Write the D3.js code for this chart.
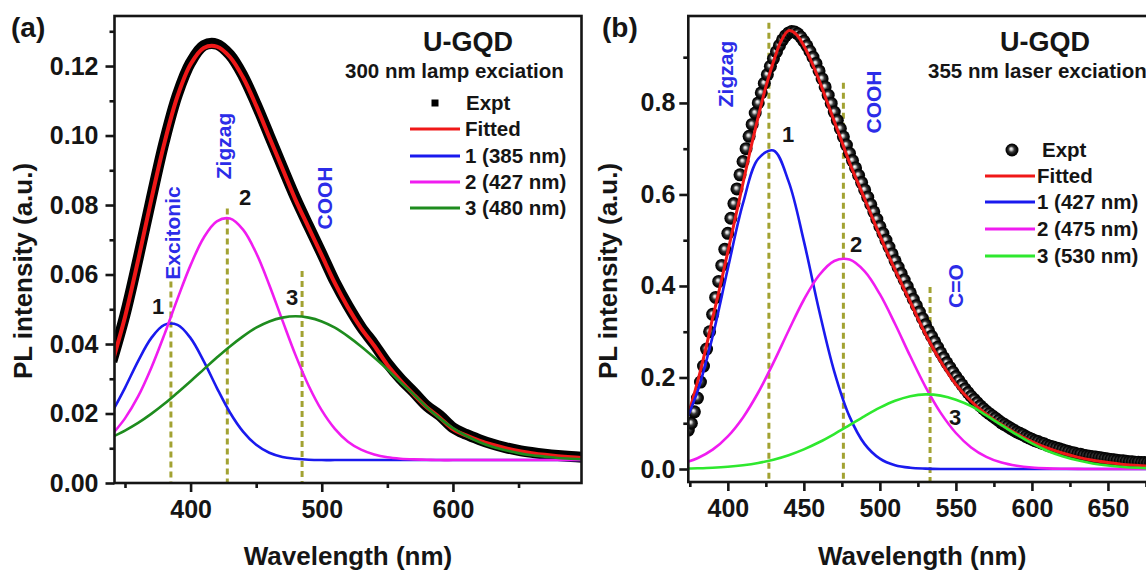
<!DOCTYPE html>
<html>
<head>
<meta charset="utf-8">
<script src="https://cdn.jsdelivr.net/npm/d3@7"></script>
<style>
  body { margin: 0; background: #fff; }
  svg text { font-family: "Liberation Sans", Arial, sans-serif; font-weight: bold; }
</style>
</head>
<body>
<script>
// ---- panel (a): 300 nm lamp excitation ----
const wlA = [340,350,360,370,380,390,400,410,420,430,440,450,460,470,480,490,500,510,520,530,540,550,560,570,580,590,600,610,620,630,640,650,660,670,680,690,700];
const exptA = [0.0350,0.0484,0.0646,0.0818,0.0983,0.1118,0.1210,0.1259,0.1263,0.1232,0.1172,0.1090,0.1000,0.0909,0.0820,0.0739,0.0660,0.0579,0.0510,0.0449,0.0399,0.0345,0.0300,0.0262,0.0222,0.0194,0.0159,0.0140,0.0125,0.0112,0.0102,0.0094,0.0088,0.0083,0.0079,0.0076,0.0074];
const fitA = [0.0343,0.0478,0.0641,0.0815,0.0978,0.1113,0.1205,0.1252,0.1256,0.1226,0.1167,0.1086,0.0995,0.0905,0.0815,0.0735,0.0655,0.0575,0.0505,0.0445,0.0395,0.0340,0.0295,0.0255,0.0218,0.0188,0.0155,0.0137,0.0122,0.0110,0.0100,0.0092,0.0086,0.0081,0.0077,0.0074,0.0072];
const peak1A = [0.0203,0.0274,0.0351,0.0417,0.0455,0.0455,0.0417,0.0351,0.0274,0.0203,0.0148,0.0110,0.0087,0.0075,0.0070,0.0067,0.0066,0.0066,0.0066,0.0066,0.0066,0.0066,0.0066,0.0066,0.0066,0.0066,0.0066,0.0066,0.0066,0.0066,0.0066,0.0066,0.0066,0.0066,0.0066,0.0066,0.0066];
const peak2A = [0.0139,0.0186,0.0249,0.0331,0.0427,0.0530,0.0627,0.0706,0.0753,0.0761,0.0729,0.0662,0.0570,0.0468,0.0368,0.0280,0.0209,0.0156,0.0119,0.0096,0.0082,0.0074,0.0070,0.0068,0.0067,0.0066,0.0066,0.0066,0.0066,0.0066,0.0066,0.0066,0.0066,0.0066,0.0066,0.0066,0.0066];
const peak3A = [0.0132,0.0151,0.0173,0.0199,0.0228,0.0260,0.0293,0.0327,0.0361,0.0393,0.0422,0.0447,0.0465,0.0476,0.0480,0.0476,0.0465,0.0447,0.0422,0.0393,0.0361,0.0327,0.0290,0.0255,0.0218,0.0186,0.0158,0.0136,0.0118,0.0104,0.0094,0.0086,0.0080,0.0076,0.0072,0.0070,0.0068];
const xTicksA = [400,500,600];
const xMinorA = [350,450,550,650];
const yTicksA = [0,0.02,0.04,0.06,0.08,0.10,0.12];
const yMinorA = [0.01,0.03,0.05,0.07,0.09,0.11,0.13];
const legendA = ["Expt","Fitted","1 (385 nm)","2 (427 nm)","3 (480 nm)"];
const markWlA = [385,428,485];
const markTopA = [0.058,0.079,0.061];

// ---- panel (b): 355 nm laser excitation ----
const wlB = [370,380,390,400,410,420,430,440,450,460,470,480,490,500,510,520,530,540,550,560,570,580,590,600,610,620,630,640,650,660,670,680,690];
const peak1B = [0.0865,0.169,0.290,0.438,0.581,0.678,0.696,0.628,0.498,0.347,0.213,0.115,0.0544,0.0227,0.0083,0.0027,0.0008,0,0,0,0,0,0,0,0,0,0,0,0,0,0,0,0];
const peak2B = [0.0123,0.0235,0.0423,0.0714,0.1128,0.1672,0.2324,0.3028,0.3699,0.4235,0.4547,0.4576,0.4318,0.382,0.3168,0.2463,0.1796,0.1227,0.0787,0.0472,0.0266,0.0140,0.0070,0.0032,0.0014,0.0006,0.0002,0,0,0,0,0,0];
const peak3B = [0.0008,0.0016,0.0028,0.0049,0.0083,0.0133,0.0204,0.0302,0.0429,0.0584,0.0764,0.0960,0.1157,0.1340,0.1490,0.1590,0.1630,0.1603,0.1514,0.1373,0.117,0.096,0.075,0.056,0.040,0.028,0.019,0.012,0.0075,0.0045,0.0027,0.0015,0.001];
const fitB = [[374,0.12],[378,0.165],[382,0.215],[386,0.27],[390,0.33],[395,0.40],[400,0.475],[405,0.55],[410,0.625],[415,0.70],[420,0.77],[425,0.835],[430,0.89],[435,0.935],[440,0.958],[445,0.95],[450,0.925],[455,0.89],[460,0.85],[465,0.805],[470,0.76],[475,0.715],[480,0.67],[490,0.59],[500,0.51],[510,0.435],[520,0.365],[530,0.295],[540,0.235],[550,0.185],[560,0.148],[570,0.12],[580,0.097],[590,0.077],[600,0.06],[610,0.046],[620,0.035],[630,0.026],[640,0.019],[650,0.014],[660,0.010],[670,0.0075],[680,0.006],[690,0.005]];
const exptB = [[374,0.085],[376,0.100],[378,0.125],[380,0.155],[382,0.19],[384,0.225],[386,0.262],[388,0.30],[390,0.338],[392,0.375],[394,0.41],[396,0.445],[398,0.48],[400,0.515],[402,0.548],[404,0.58],[406,0.612],[408,0.643],[410,0.672],[412,0.70],[414,0.727],[416,0.753],[418,0.778],[420,0.80],[422,0.822],[424,0.843],[426,0.862],[428,0.88],[430,0.897],[432,0.912],[434,0.926],[436,0.938],[438,0.947],[440,0.953],[442,0.956],[444,0.955],[446,0.951],[448,0.944],[450,0.935],[452,0.925],[454,0.913],[456,0.90],[458,0.886],[460,0.87],[462,0.853],[464,0.835],[466,0.817],[468,0.799],[470,0.78],[472,0.762],[474,0.744],[476,0.726],[478,0.708],[480,0.69],[482,0.674],[484,0.658],[486,0.642],[488,0.626],[490,0.61],[492,0.594],[494,0.578],[496,0.562],[498,0.546],[500,0.53],[502,0.515],[504,0.50],[506,0.485],[508,0.47],[510,0.455],[512,0.441],[514,0.427],[516,0.413],[518,0.399],[520,0.385],[522,0.371],[524,0.357],[526,0.343],[528,0.329],[530,0.315],[532,0.302],[534,0.29],[536,0.278],[538,0.266],[540,0.254],[542,0.243],[544,0.232],[546,0.222],[548,0.212],[550,0.202],[552,0.193],[554,0.184],[556,0.175],[558,0.167],[560,0.159],[562,0.152],[564,0.145],[566,0.138],[568,0.132],[570,0.126],[572,0.121],[574,0.116],[576,0.111],[578,0.106],[580,0.101],[582,0.097],[584,0.093],[586,0.089],[588,0.085],[590,0.081],[592,0.078],[594,0.075],[596,0.071],[598,0.068],[600,0.065],[602,0.062],[604,0.060],[606,0.057],[608,0.055],[610,0.052],[612,0.050],[614,0.048],[616,0.046],[618,0.044],[620,0.042],[622,0.040],[624,0.038],[626,0.036],[628,0.035],[630,0.033],[632,0.032],[634,0.030],[636,0.029],[638,0.028],[640,0.027],[642,0.026],[644,0.025],[646,0.024],[648,0.023],[650,0.022],[652,0.021],[654,0.020],[656,0.019],[658,0.018],[660,0.018],[662,0.017],[664,0.016],[666,0.016],[668,0.015],[670,0.015],[672,0.014],[674,0.014],[676,0.013],[678,0.013],[680,0.012],[682,0.012]];
const xTicksB = [400,450,500,550,600,650];
const xMinorB = [375,425,475,525,575,625,675];
const yTicksB = [0,0.2,0.4,0.6,0.8];
const yMinorB = [0.1,0.3,0.5,0.7,0.9];
const legendB = ["Expt","Fitted","1 (427 nm)","2 (475 nm)","3 (530 nm)"];
const markWlB = [427,476,533];
const markTopB = [0.975,0.844,0.398];

const RED = "#f01818", BLUE = "#1a1aee", MAGENTA = "#f01cf0";
const GREEN_A = "#1e8c1e", GREEN_B = "#2ee82e";
const NOTE = "#2c2ce8", OLIVE = "#a2a232", INK = "#151515";

const svg = d3.select("body").append("svg")
    .attr("width", 1146)
    .attr("height", 572);

// shaded ball marker for panel (b)
const grad = svg.append("defs").append("radialGradient")
    .attr("id", "ball").attr("cx", "50%").attr("cy", "50%").attr("r", "50%")
    .attr("fx", "42%").attr("fy", "40%");
[["0%", "#ffffff"], ["20%", "#c8c8c8"], ["45%", "#3a3a3a"], ["75%", "#0a0a0a"], ["100%", "#000"]]
    .forEach(([o, c]) => grad.append("stop").attr("offset", o).attr("stop-color", c));

function panel(cfg) {
    const { x, y } = cfg;
    const [x0, x1] = x.range();
    const [y1, y0] = y.range();
    const g = svg.append("g");

    g.append("clipPath").attr("id", cfg.id)
        .append("rect").attr("x", x0).attr("y", y0).attr("width", x1 - x0).attr("height", y1 - y0);
    const plot = g.append("g").attr("clip-path", `url(#${cfg.id})`);

    // dashed position markers
    plot.selectAll("line.mark").data(cfg.markWl).join("line")
        .attr("x1", d => x(d)).attr("x2", d => x(d))
        .attr("y1", (d, i) => y(cfg.markTop[i])).attr("y2", y1)
        .attr("stroke", OLIVE).attr("stroke-width", 3).attr("stroke-dasharray", "6,4");

    const line = d3.line().curve(d3.curveCatmullRom.alpha(0.5));
    const path = (pts, color, w) => plot.append("path")
        .attr("d", line(pts.map(p => [x(p[0]), y(p[1])])))
        .attr("fill", "none").attr("stroke", color).attr("stroke-width", w)
        .attr("stroke-linejoin", "round");

    cfg.drawExpt(plot, path);
    path(cfg.fit, RED, cfg.fitWidth);
    cfg.peaks.forEach((p, i) => path(p, cfg.peakColors[i], 2.6));

    // frame
    g.append("rect").attr("x", x0).attr("y", y0).attr("width", x1 - x0).attr("height", y1 - y0)
        .attr("fill", "none").attr("stroke", INK).attr("stroke-width", 2.6);

    // axes
    const styleAxis = a => {
        a.select(".domain").remove();
        a.selectAll("line").attr("stroke", INK).attr("stroke-width", 2.6);
        a.selectAll("text").attr("fill", INK).style("font-size", "25px");
    };
    g.append("g").attr("transform", `translate(0,${y1})`)
        .call(d3.axisBottom(x).tickValues(cfg.xTicks).tickSize(9).tickPadding(8).tickFormat(d3.format("d")))
        .call(styleAxis);
    g.append("g").attr("transform", `translate(0,${y1})`)
        .call(d3.axisBottom(x).tickValues(cfg.xMinor).tickSize(5).tickFormat(""))
        .call(styleAxis);
    g.append("g").attr("transform", `translate(${x0},0)`)
        .call(d3.axisLeft(y).tickValues(cfg.yTicks).tickSize(9).tickPadding(cfg.yPad).tickFormat(d3.format(cfg.yFormat)))
        .call(styleAxis);
    g.append("g").attr("transform", `translate(${x0},0)`)
        .call(d3.axisLeft(y).tickValues(cfg.yMinor).tickSize(5).tickFormat(""))
        .call(styleAxis);

    // titles
    g.append("text").attr("x", cfg.tagX).attr("y", 37).attr("fill", INK)
        .style("font-size", "28px").text(cfg.tag);
    g.append("text").attr("x", (x0 + x1) / 2).attr("y", 565).attr("text-anchor", "middle")
        .attr("fill", INK).style("font-size", "26px").text("Wavelength (nm)");
    g.append("text").attr("transform", `translate(${cfg.yTitleX},271) rotate(-90)`)
        .attr("text-anchor", "middle").attr("fill", INK).style("font-size", "26px")
        .text("PL intensity (a.u.)");

    // rotated group labels and peak numbers
    cfg.notes.forEach(n => g.append("text")
        .attr("transform", `translate(${n[1]},${n[2]}) rotate(-90)`)
        .attr("text-anchor", "middle").attr("fill", NOTE).style("font-size", "21px").text(n[0]));
    cfg.nums.forEach(n => g.append("text").attr("x", n[1]).attr("y", n[2])
        .attr("text-anchor", "middle").attr("fill", INK).style("font-size", "22px").text(n[0]));

    // legend
    const lg = cfg.legend;
    g.append("text").attr("x", lg.titleX).attr("y", 51).attr("fill", INK)
        .style("font-size", "27px").text("U-GQD");
    g.append("text").attr("x", lg.subX).attr("y", 78).attr("fill", INK)
        .style("font-size", "20.5px").text(lg.sub);
    const rows = g.selectAll("g.row").data(cfg.legendLabels).join("g")
        .attr("transform", (d, i) => `translate(0,${lg.rows[i]})`);
    rows.append("text").attr("x", (d, i) => i === 0 ? lg.exptTextX : lg.textX).attr("y", 7)
        .attr("fill", INK).style("font-size", "20.5px").text(d => d);
    rows.filter((d, i) => i > 0).append("line")
        .attr("x1", lg.lineX0).attr("x2", lg.lineX1)
        .attr("stroke", (d, i) => [RED].concat(cfg.peakColors)[i]).attr("stroke-width", 3);
    lg.marker(rows.filter((d, i) => i === 0));
}

panel({
    id: "clipA",
    x: d3.scaleLinear([342, 698], [114.5, 581.5]),
    y: d3.scaleLinear([0, 0.1344], [483, 16]),
    fit: wlA.map((w, i) => [w, fitA[i]]),
    fitWidth: 4,
    peaks: [peak1A, peak2A, peak3A].map(s => wlA.map((w, i) => [w, s[i]])),
    peakColors: [BLUE, MAGENTA, GREEN_A],
    drawExpt: (plot, path) => path(wlA.map((w, i) => [w, exptA[i]]), "#000", 11),
    markWl: markWlA, markTop: markTopA,
    xTicks: xTicksA, xMinor: xMinorA, yTicks: yTicksA, yMinor: yMinorA,
    yFormat: ".2f", yPad: 7,
    tag: "(a)", tagX: 11, yTitleX: 32,
    notes: [["Excitonic", 180, 233], ["Zigzag", 231, 146], ["COOH", 332, 198]],
    nums: [["1", 158, 314], ["2", 245, 205], ["3", 292, 305]],
    legendLabels: legendA,
    legend: {
        titleX: 423, subX: 345, sub: "300 nm lamp exciation",
        rows: [103, 129, 156, 182, 208], lineX0: 410, lineX1: 460, textX: 465, exptTextX: 466,
        marker: r => r.append("rect").attr("x", 431.5).attr("y", -3.5).attr("width", 7).attr("height", 7).attr("fill", "#000")
    }
});

panel({
    id: "clipB",
    x: d3.scaleLinear([374, 681.6], [688.3, 1156]),
    y: d3.scaleLinear([-0.0284, 0.990], [482, 16]),
    fit: fitB,
    fitWidth: 3,
    peaks: [peak1B, peak2B, peak3B].map(s => wlB.map((w, i) => [w, s[i]])),
    peakColors: [BLUE, MAGENTA, GREEN_B],
    drawExpt: (plot) => {
        const x = d3.scaleLinear([374, 681.6], [688.3, 1156]);
        const y = d3.scaleLinear([-0.0284, 0.990], [482, 16]);
        plot.selectAll("circle.expt").data(exptB).join("circle")
            .attr("cx", d => x(d[0])).attr("cy", d => y(d[1])).attr("r", 6.5)
            .attr("fill", "url(#ball)");
    },
    markWl: markWlB, markTop: markTopB,
    xTicks: xTicksB, xMinor: xMinorB, yTicks: yTicksB, yMinor: yMinorB,
    yFormat: ".1f", yPad: 4,
    tag: "(b)", tagX: 602, yTitleX: 617,
    notes: [["Zigzag", 733, 74], ["COOH", 881, 102], ["C=O", 963, 286]],
    nums: [["1", 788, 142], ["2", 856, 252], ["3", 955, 425]],
    legendLabels: legendB,
    legend: {
        titleX: 1000, subX: 928, sub: "355 nm laser exciation",
        rows: [150, 176, 202, 229, 256], lineX0: 985, lineX1: 1035, textX: 1037, exptTextX: 1042,
        marker: r => r.append("circle").attr("cx", 1012).attr("cy", 0).attr("r", 6.5).attr("fill", "url(#ball)")
    }
});
</script>
</body>
</html>
